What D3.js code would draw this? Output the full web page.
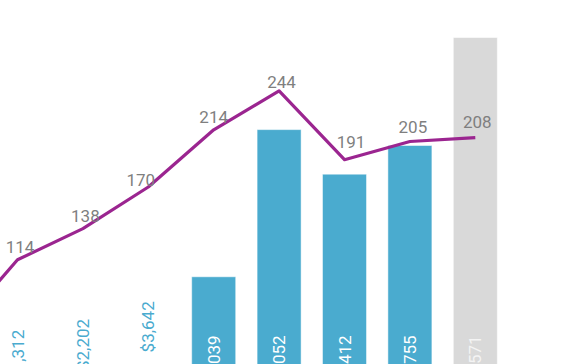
<!DOCTYPE html>
<html>
<head>
<meta charset="utf-8">
<script src="https://cdn.jsdelivr.net/npm/d3@7"></script>
<style>
  html, body { margin: 0; padding: 0; background: #fff; overflow: hidden; }
  svg { display: block; font-family: Roboto, "Liberation Sans", sans-serif; }
</style>
</head>
<body>
<div id="chart"></div>
<script>
document.addEventListener("DOMContentLoaded", function () {

    // categories (the first one sits just outside the visible crop)
    const categories = ["c0", "c1", "c2", "c3", "c4", "c5", "c6", "c7", "c8"];
    const barValues = [812, 1312, 2202, 3642, 11039, 23052, 19412, 21755, 30571];
    const barLabels = ["$812", "$1,312", "$2,202", "$3,642", "$11,039", "$23,052", "$19,412", "$21,755", "$30,571"];
    const lineValues = [56, 114, 138, 170, 214, 244, 191, 205, 208];
    const forecast = [false, false, false, false, false, false, false, false, true];

    // small nudges for the line labels, as placed in the original
    const labelNudge = [[2, -8], [2.5, -7], [2.5, -6.6], [-7.5, -1.3], [0, -7], [2.5, -3], [6.5, -12], [3, -8.5], [2, -9.6]];

    const width = 572, height = 364;
    const blue = "#4aabcf", grey = "#d9d9d9", purple = "#9b2590";

    const svg = d3.select("#chart")
        .append("svg")
        .attr("width", width)
        .attr("height", height);

    const step = 65.4;
    const x = d3.scaleBand()
        .domain(categories)
        .range([-47.9 - step / 2, -47.9 - step / 2 + step * categories.length])
        .paddingInner(0.327)
        .paddingOuter(0.1635);

    const yBar = d3.scaleLinear().domain([0, 30000]).range([412, 44.5]);
    const yLine = d3.scaleLinear().domain([0, 250]).range([408, 83]);

    const data = categories.map((c, i) => ({
        cat: c, value: barValues[i], label: barLabels[i], line: lineValues[i], fc: forecast[i], nudge: labelNudge[i]
    }));

    const fitsInside = d => yBar(0) - yBar(d.value) > 70;

    // bars
    svg.selectAll(".bar")
        .data(data)
        .enter().append("rect")
        .attr("class", "bar")
        .attr("x", d => x(d.cat))
        .attr("width", x.bandwidth())
        .attr("y", d => yBar(d.value))
        .attr("height", d => yBar(0) - yBar(d.value))
        .attr("fill", d => d.fc ? grey : blue)
        .attr("stroke", "#ffffff")
        .attr("stroke-opacity", 0.5)
        .attr("stroke-width", 1);

    // bar labels: inside at the base when they fit, else above the bar
    svg.selectAll(".bar-label")
        .data(data)
        .enter().append("text")
        .attr("class", "bar-label")
        .attr("transform", d => {
            const yy = fitsInside(d) ? yBar(0) - 16 : yBar(d.value) - 15;
            return `translate(${x(d.cat) + x.bandwidth() / 2 + 6},${yy}) rotate(-90)`;
        })
        .attr("text-anchor", "start")
        .style("font-size", "17px")
        .attr("fill", d => {
            if (!fitsInside(d)) return blue;
            return d.fc ? "#f4f4f4" : "#ffffff";
        })
        .text(d => d.label);

    // line
    const line = d3.line()
        .x(d => x(d.cat) + x.bandwidth() / 2)
        .y(d => yLine(d.line));

    svg.append("path")
        .datum(data)
        .attr("fill", "none")
        .attr("stroke", purple)
        .attr("stroke-width", 3.2)
        .attr("stroke-linejoin", "round")
        .attr("d", line);

    svg.selectAll(".line-label")
        .data(data)
        .enter().append("text")
        .attr("class", "line-label")
        .attr("x", d => x(d.cat) + x.bandwidth() / 2 + d.nudge[0])
        .attr("y", d => yLine(d.line) + d.nudge[1])
        .attr("text-anchor", "middle")
        .style("font-size", "17px")
        .attr("fill", "#7f7f7f")
        .text(d => d.line);
});
</script>
</body>
</html>
